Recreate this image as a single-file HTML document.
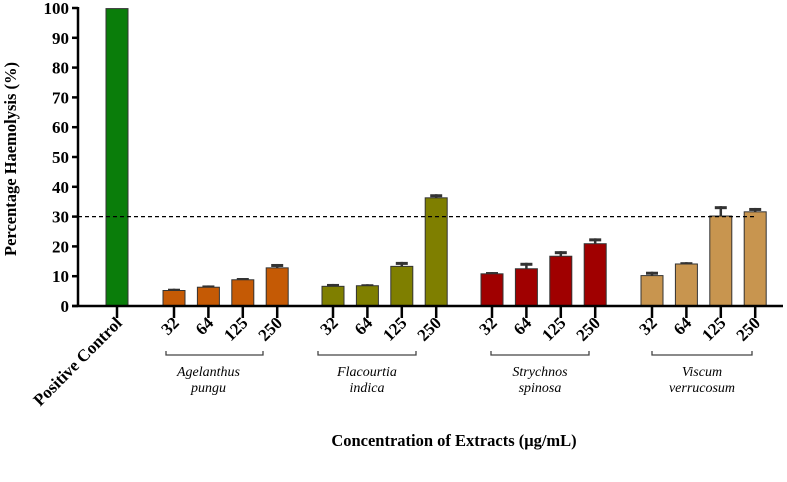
<!DOCTYPE html>
<html><head><meta charset="utf-8"><style>
body{margin:0;background:#fff}
svg{display:block;font-family:"Liberation Serif",serif}
</style></head><body>
<svg id="chart" width="787" height="482" viewBox="0 0 787 482" xmlns="http://www.w3.org/2000/svg"></svg>
<script>
const groups = ["Positive Control","Agelanthus pungu","Flacourtia indica","Strychnos spinosa","Viscum verrucosum"];
const concs = ["32","64","125","250"];
const controlValue = [99.8];
const agelanthus = [5.2,6.3,8.8,12.8];
const flacourtia = [6.6,6.8,13.3,36.3];
const strychnos = [10.8,12.5,16.7,20.9];
const viscum = [10.2,14.1,30.2,31.6];
const agelanthusErr = [0.6,0.6,0.6,1.3];
const flacourtiaErr = [0.8,0.5,1.5,1.2];
const strychnosErr = [0.6,2.0,1.7,1.8];
const viscumErr = [1.3,0.6,3.3,1.3];
const yTicks = [0,10,20,30,40,50,60,70,80,90,100];
const threshold = [30];

const NS="http://www.w3.org/2000/svg";
const svg=document.getElementById('chart');
function mk(tag,attrs,parent){const e=document.createElementNS(NS,tag);for(const k in attrs)e.setAttribute(k,attrs[k]);(parent||svg).appendChild(e);return e;}
const x0=78,yBase=306,yTop=8;
const y=v=>yBase-(v/100)*(yBase-yTop);
const barW=22,step=34.4;
const groupStarts=[174,333,492,652];
const bracketLayout=[[166,263],[318,416],[491,589],[652,752]];
const xc=(g,i)=>groupStarts[g]+i*step;
const series=[agelanthus,flacourtia,strychnos,viscum];
const errs=[agelanthusErr,flacourtiaErr,strychnosErr,viscumErr];
const colors=["#c55a05","#7f7f00","#a00000","#c8954f"];
const names=["agelanthus","flacourtia","strychnos","viscum"];

yTicks.forEach(t=>{
  const l=mk('line',{x1:x0-6,x2:x0,y1:y(t),y2:y(t),stroke:'#000','stroke-width':2.5});
  
  
  const tx=mk('text',{x:x0-9,y:y(t)+6,'text-anchor':'end','font-size':17,'font-weight':'bold'});
  tx.textContent=t;
  
  
});
const yt=mk('text',{x:0,y:0,transform:'translate(16,159) rotate(-90)','text-anchor':'middle','font-size':16.5,'font-weight':'bold'});
yt.textContent='Percentage Haemolysis (%)';



const cx=117;
const cb=mk('rect',{x:cx-barW/2,y:y(controlValue[0]),width:barW,height:yBase-y(controlValue[0]),fill:'#0a7d0a',stroke:'#333','stroke-width':1});



function tickAndLabel(x,txt,name){
  const l=mk('line',{x1:x,x2:x,y1:yBase,y2:yBase+12,stroke:'#000','stroke-width':2.5});
  
  
  const t=mk('text',{x:0,y:0,transform:`translate(${x+6},${yBase+18}) rotate(-45)`,'text-anchor':'end','font-size':17,'font-weight':'bold'});
  t.textContent=txt;
  
  
}
tickAndLabel(cx,groups[0],'x-label-positive-control');

series.forEach((s,g)=>{
  s.forEach((v,i)=>{
    const x=xc(g,i);
    const e=errs[g][i];
    const ew=mk('line',{x1:x,x2:x,y1:y(v),y2:y(v+e),stroke:'#333','stroke-width':2.5});
    
    
    const cap=mk('line',{x1:x-6,x2:x+6,y1:y(v+e)+1.5,y2:y(v+e)+1.5,stroke:'#333','stroke-width':3});
    
    
    const r=mk('rect',{x:x-barW/2,y:y(v),width:barW,height:yBase-y(v),fill:colors[g],stroke:'#333','stroke-width':1});
    
    
    tickAndLabel(x,concs[i],'x-label-'+names[g]+'-'+concs[i]);
  });
  const a=bracketLayout[g][0], b=bracketLayout[g][1];
  const br=mk('path',{d:`M${a},${yBase+45} V${yBase+49} H${b} V${yBase+45}`,fill:'none',stroke:'#444','stroke-width':1.3});
  
  
  const parts=groups[g+1].split(' ');
  parts.forEach((p,k)=>{
    const t=mk('text',{x:(a+b)/2-(g===0?6:0),y:yBase+70+k*16,'text-anchor':'middle','font-size':14,'font-style':'italic'});
    t.textContent=p;
    
    
  });
});

const th=mk('line',{x1:x0,x2:757,y1:y(threshold[0]),y2:y(threshold[0]),stroke:'#000','stroke-width':1.2,'stroke-dasharray':'4,3'});



const ya=mk('line',{x1:x0,x2:x0,y1:yTop-1,y2:yBase+1,stroke:'#000','stroke-width':2.5});


const xa=mk('line',{x1:x0-6,x2:783,y1:yBase,y2:yBase,stroke:'#000','stroke-width':2.5});



const xt=mk('text',{x:454,y:446,'text-anchor':'middle','font-size':16.5,'font-weight':'bold'});
xt.textContent='Concentration of Extracts (μg/mL)';


</script>
</body></html>
